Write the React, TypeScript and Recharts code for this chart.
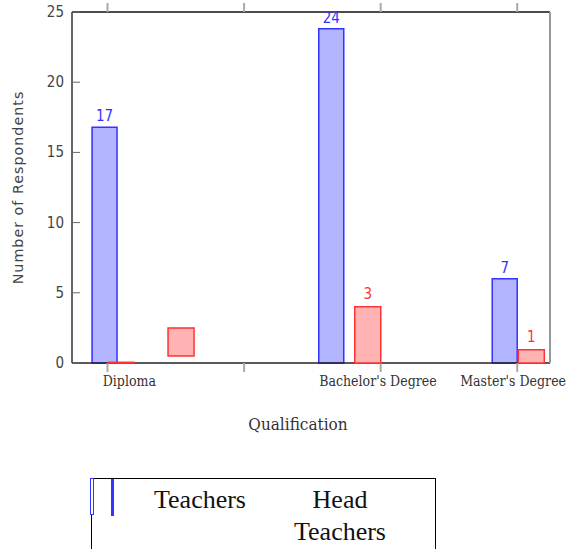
import React from "react";
import {
  ComposedChart,
  Bar,
  XAxis,
  YAxis,
  LabelList,
} from "recharts";

// categories + where their labels sit on the x scale
const categories = ["Diploma", "Bachelor's Degree", "Master's Degree"];
const categoryPos = [1.16, 2.98, 3.97];
const xTicks = [1, 2, 3, 4];
const yTicks = [0, 5, 10, 15, 20, 25];
const seriesNames = ["Teachers", "Head Teachers"];

// Teachers (blue)
const teacherPos = [0.98, 2.64, 3.91];
const teacherValues = [16.8, 23.8, 6.0];
const teacherLabels = ["17", "24", "7"];

// Head Teachers (red), drawn as ranges
const headPos = [1.1, 1.54, 2.91, 4.11];
const headLow = [0, 0.5, 0, 0];
const headHigh = [0.05, 2.5, 4, 0.95];
const headLabels = ["", "", "3", "1"];

const W = 566;
const H = 440;
const Y_AXIS_W = 72;
const X_DOMAIN: [number, number] = [0.74, 4.24];
// base chart has 1px top/right/bottom axes, so its margins are 1px smaller
const MARGIN_BASE = { top: 11, right: 16, bottom: 0, left: 0 };
const MARGIN_OVER = { top: 12, right: 17, bottom: 77, left: Y_AXIS_W };

const BLUE = "#3333ff";
const BLUE_FILL = "#b3b5ff";
const RED = "#ff3333";
const RED_FILL = "#ffb3b3";

const teacherData = teacherPos.map((x, i) => ({
  x,
  value: teacherValues[i],
  label: teacherLabels[i],
}));

const headData = headPos.map((x, i) => ({
  x,
  value: [headLow[i], headHigh[i]],
  label: headLabels[i],
}));

// left axis: label outside, tick mark pointing into the plot
const LeftTick = (props: any) => {
  const { x, y, payload } = props;
  return (
    <g>
      <line x1={Y_AXIS_W} x2={Y_AXIS_W + 8} y1={y} y2={y} stroke="#666" />
      <text
        x={x}
        y={y}
        dy={5}
        textAnchor="end"
        fill="#444"
        fontFamily="DejaVu Sans Condensed"
        fontSize={15}
      >
        {payload.value}
      </text>
    </g>
  );
};

const blank = () => "";

export default function App() {
  return (
    <div
      style={{
        position: "absolute",
        left: 0,
        top: 0,
        width: 566,
        height: 549,
        overflow: "hidden",
        background: "#fff",
      }}
    >
      {/* base chart: axes + Teachers */}
      <div style={{ position: "absolute", left: 0, top: 0 }}>
        <ComposedChart width={W} height={H} data={teacherData} margin={MARGIN_BASE}>
          <XAxis
            xAxisId="a0top"
            orientation="top"
            type="number"
            dataKey="x"
            domain={X_DOMAIN}
            ticks={xTicks}
            interval={0}
            height={1}
            tickFormatter={blank}
            tickSize={9}
            tickLine={{ stroke: "#aaa", strokeWidth: 2 }}
            axisLine={{ stroke: "#111", strokeWidth: 1.5 }}
            allowDataOverflow
          />
          <XAxis
            xAxisId="a1main"
            type="number"
            dataKey="x"
            domain={X_DOMAIN}
            ticks={xTicks}
            interval={0}
            height={1}
            tickFormatter={blank}
            tickSize={9}
            tickLine={{ stroke: "#aaa", strokeWidth: 2 }}
            axisLine={{ stroke: "#222", strokeWidth: 1.5 }}
            allowDataOverflow
          />
          <XAxis
            xAxisId="a2cat"
            type="number"
            dataKey="x"
            domain={X_DOMAIN}
            ticks={categoryPos}
            interval={0}
            height={76}
            axisLine={false}
            tickLine={false}
            tickSize={0}
            tickMargin={12}
            tickFormatter={(v) => categories[categoryPos.indexOf(v)] ?? ""}
            tick={{
              fill: "#333",
              fontFamily: "DejaVu Serif Condensed",
              fontSize: 14,
            }}
            label={{
              value: "Qualification",
              position: "insideBottom",
              offset: 10,
              dx: -13,
              fill: "#333",
              fontFamily: "DejaVu Serif Condensed",
              fontSize: 17,
            }}
            allowDataOverflow
          />
          <YAxis
            yAxisId="left"
            domain={[0, 25]}
            ticks={yTicks}
            width={Y_AXIS_W}
            tickLine={false}
            tick={<LeftTick />}
            axisLine={{ stroke: "#333", strokeWidth: 1.5 }}
            label={{
              value: "Number of Respondents",
              angle: -90,
              position: "insideLeft",
              offset: 18,
              style: { textAnchor: "middle", letterSpacing: 1 },
              fill: "#444",
              fontFamily: "DejaVu Sans",
              fontSize: 14.3,
            }}
          />
          <YAxis
            yAxisId="right"
            orientation="right"
            domain={[0, 25]}
            ticks={yTicks}
            interval={0}
            width={1}
            mirror
            tickFormatter={blank}
            tickSize={6}
            tickLine={{ stroke: "#666" }}
            axisLine={{ stroke: "#999", strokeWidth: 2 }}
          />
          <Bar
            xAxisId="a1main"
            yAxisId="left"
            dataKey="value"
            name={seriesNames[0]}
            barSize={25}
            fill={BLUE_FILL}
            stroke={BLUE}
            strokeWidth={1.5}
            isAnimationActive={false}
          >
            <LabelList
              dataKey="label"
              position="top"
              offset={6}
              fill={BLUE}
              fontFamily="DejaVu Sans Condensed"
              fontSize={15}
            />
          </Bar>
        </ComposedChart>
      </div>

      {/* overlay chart: Head Teachers */}
      <div style={{ position: "absolute", left: 0, top: 0 }}>
        <ComposedChart width={W} height={H} data={headData} margin={MARGIN_OVER}>
          <XAxis
            xAxisId="r"
            type="number"
            dataKey="x"
            domain={X_DOMAIN}
            hide
            height={0}
            allowDataOverflow
          />
          <YAxis yAxisId="r" domain={[0, 25]} hide width={0} />
          <Bar
            xAxisId="r"
            yAxisId="r"
            dataKey="value"
            name={seriesNames[1]}
            barSize={26}
            fill={RED_FILL}
            stroke={RED}
            strokeWidth={1.5}
            isAnimationActive={false}
          >
            <LabelList
              dataKey="label"
              position="top"
              offset={8}
              fill={RED}
              fontFamily="DejaVu Sans Condensed"
              fontSize={15}
            />
          </Bar>
        </ComposedChart>
      </div>

      {/* legend */}
      <div
        style={{
          position: "absolute",
          left: 91,
          top: 478,
          width: 343,
          height: 90,
          border: "1px solid #000",
          fontFamily: "'Liberation Serif', 'Times New Roman', serif",
          fontSize: 26,
          lineHeight: "32px",
          color: "#111",
        }}
      >
        <div
          style={{
            position: "absolute",
            left: -2,
            top: -1,
            width: 2,
            height: 35,
            border: `1px solid ${BLUE}`,
            background: "#fff",
          }}
        />
        <div
          style={{
            position: "absolute",
            left: 19,
            top: 0,
            width: 3,
            height: 37,
            background: BLUE,
          }}
        />
        <div
          style={{
            position: "absolute",
            left: 40,
            top: 5,
            width: 136,
            textAlign: "center",
          }}
        >
          {seriesNames[0]}
        </div>
        <div
          style={{
            position: "absolute",
            left: 193,
            top: 5,
            width: 110,
            textAlign: "center",
          }}
        >
          {seriesNames[1]}
        </div>
      </div>
    </div>
  );
}
